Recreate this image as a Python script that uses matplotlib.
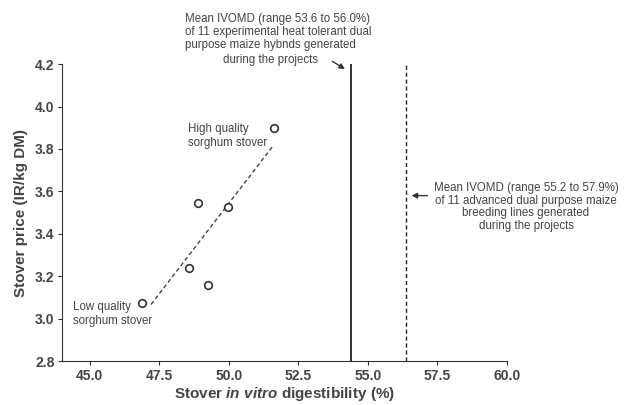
import numpy as np
import matplotlib
matplotlib.use("Agg")
import matplotlib.pyplot as plt

plt.rcParams['font.family'] = ['Liberation Sans', 'DejaVu Sans']
plt.rcParams['mathtext.fontset'] = 'custom'
plt.rcParams['mathtext.it'] = 'Liberation Sans:italic:bold'
plt.rcParams['mathtext.rm'] = 'Liberation Sans:bold'

# IVD (%) and stover price (IR/kg DM) of sorghum stover
ivd = [51.64, 48.88, 49.96, 48.57, 49.26, 46.88]
price = [3.90, 3.546, 3.527, 3.238, 3.159, 3.073]

# mean IVOMD of maize hybrids / breeding lines
hybrid_mean = 54.38
lines_mean = 56.37

xticks = [45.0, 47.5, 50.0, 52.5, 55.0, 57.5, 60.0]
yticks = [2.8, 3.0, 3.2, 3.4, 3.6, 3.8, 4.0, 4.2]

txt = '#444444'
fs_note = 8.3
fig = plt.figure(figsize=(6.24, 4.05), dpi=100)
ax = fig.add_axes([0.0994, 0.1086, 0.713, 0.733])

ax.scatter(ivd, price, s=30, facecolors='white', edgecolors='#333333', linewidths=1.2, zorder=3)

# regression line
k, b = np.polyfit(ivd, price, 1)
xr = np.array([47.2, 51.6])
ax.plot(xr, k * xr + b, ls=(0, (3, 2)), color='#444444', lw=1.0)

ax.axvline(hybrid_mean, color='#222222', lw=1.3)
ax.axvline(lines_mean, color='#222222', lw=1.0, ls=(0, (3, 2)))

ax.set_xlim(44.0, 60.0)
ax.set_ylim(2.8, 4.2)
ax.set_xticks(xticks)
ax.set_yticks(yticks)
ax.set_xticklabels(['%.1f' % v for v in xticks], fontweight='bold', color=txt, fontsize=10)
ax.set_yticklabels(['%.1f' % v for v in yticks], fontweight='bold', color=txt, fontsize=10)
ax.spines['top'].set_visible(False)
ax.spines['right'].set_visible(False)
for s in ['left', 'bottom']:
    ax.spines[s].set_color('#333333')
ax.tick_params(length=3, color='#333333', width=0.8, pad=2.5)

ax.set_xlabel('Stover $\\mathit{in\\ vitro}$ digestibility (%)', fontweight='bold', color=txt, fontsize=11, labelpad=2)
ax.set_ylabel('Stover price (IR/kg DM)', fontweight='bold', color=txt, fontsize=11, labelpad=5)

ax.text(48.53, 3.86, 'High quality\nsorghum stover', fontsize=fs_note, color=txt, va='center')
ax.text(44.4, 3.02, 'Low quality\nsorghum stover', fontsize=fs_note, color=txt, va='center')

fig.text(0.2965, 0.968, 'Mean IVOMD (range 53.6 to 56.0%)\nof 11 experimental heat tolerant dual\n'
         'purpose maize hybnds generated',
         fontsize=fs_note, color=txt, ha='left', va='top', linespacing=1.1)
fig.text(0.434, 0.853, 'during the projects', fontsize=fs_note, color=txt, ha='center', va='center')
ax.annotate('', xy=(hybrid_mean - 0.12, 4.17), xytext=(53.64, 4.22),
            arrowprops=dict(arrowstyle='-|>', color='#333333', lw=1.0, mutation_scale=8),
            annotation_clip=False)

fig.text(0.843, 0.489, 'Mean IVOMD (range 55.2 to 57.9%)\nof 11 advanced dual purpose maize\n'
         'breeding lines generated\nduring the projects',
         fontsize=fs_note, color=txt, ha='center', va='center', multialignment='center', linespacing=1.1)
ax.annotate('', xy=(lines_mean + 0.1, 3.58), xytext=(57.24, 3.58),
            arrowprops=dict(arrowstyle='-|>', color='#333333', lw=1.0, mutation_scale=8),
            annotation_clip=False)

fig.savefig('out.png', dpi=100, facecolor='white')
